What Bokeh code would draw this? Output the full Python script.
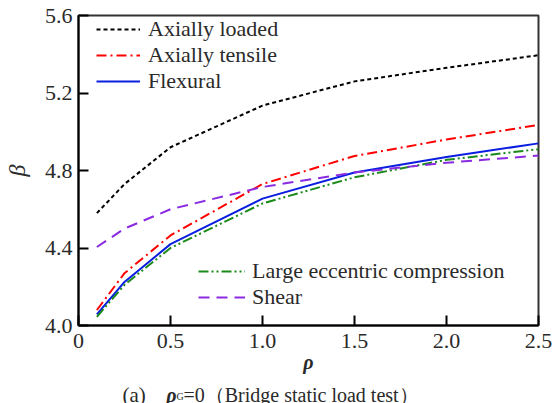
from bokeh.plotting import figure
from bokeh.layouts import column
from bokeh.models import Range1d, FixedTicker, Legend, LegendItem, Label
from bokeh.embed import file_html
from bokeh.resources import INLINE

rho = [0.1, 0.25, 0.5, 1.0, 1.5, 2.0, 2.5]
axially_loaded = [4.58, 4.73, 4.92, 5.135, 5.26, 5.33, 5.395]
axially_tensile = [4.08, 4.27, 4.465, 4.73, 4.875, 4.96, 5.035]
flexural = [4.057, 4.225, 4.42, 4.655, 4.79, 4.87, 4.94]
large_ecc = [4.045, 4.21, 4.40, 4.63, 4.765, 4.855, 4.91]
shear = [4.405, 4.50, 4.60, 4.715, 4.79, 4.84, 4.877]

x_ticks = [0, 0.5, 1.0, 1.5, 2.0, 2.5]
x_tick_labels = ["0", "0.5", "1.0", "1.5", "2.0", "2.5"]
y_ticks = [4.0, 4.4, 4.8, 5.2, 5.6]
y_tick_labels = ["4.0", "4.4", "4.8", "5.2", "5.6"]

FONT = "Liberation Serif"
TXT = "#2a2a2a"
LEFT, RIGHT, TOP = 78, 21, 15
MAIN_H, CAP_H = 376, 27

p = figure(width=559, height=MAIN_H, output_backend="svg", toolbar_location=None,
           x_range=Range1d(0, 2.5), y_range=Range1d(4.0, 5.6),
           min_border_left=LEFT, min_border_right=RIGHT, min_border_top=TOP,
           min_border_bottom=MAIN_H - TOP - 310)
p.grid.visible = False
p.background_fill_color = "white"
p.border_fill_color = "white"
p.outline_line_color = "#333333"
p.outline_line_width = 2

for ax, ticks, labels in ((p.xaxis[0], x_ticks, x_tick_labels), (p.yaxis[0], y_ticks, y_tick_labels)):
    ax.ticker = FixedTicker(ticks=ticks)
    ax.major_label_overrides = {t: l for t, l in zip(ticks, labels)}
    ax.major_tick_in = 10
    ax.major_tick_out = 0
    ax.minor_tick_in = 0
    ax.minor_tick_out = 0
    ax.major_tick_line_width = 2
    ax.major_tick_line_color = "black"
    ax.axis_line_width = 2
    ax.axis_line_color = "black"
    ax.major_label_text_font = FONT
    ax.major_label_text_font_size = "22px"
    ax.major_label_text_color = TXT
    ax.axis_label_text_font = FONT
    ax.axis_label_text_color = TXT
p.xaxis.major_label_standoff = 8
p.yaxis.major_label_standoff = 6
p.yaxis.axis_label = "β"
p.yaxis.axis_label_text_font_style = "italic"
p.yaxis.axis_label_text_font_size = "24px"
p.yaxis.axis_label_standoff = 12
p.xaxis.axis_label = "ρ"
p.xaxis.axis_label_text_font_style = "bold italic"
p.xaxis.axis_label_text_font_size = "20px"
p.xaxis.axis_label_standoff = 0

r1 = p.line(rho, axially_loaded, line_color="black", line_width=2, line_dash="4 3")
r2 = p.line(rho, axially_tensile, line_color="#ff0000", line_width=2, line_dash="10 4 2 4")
r3 = p.line(rho, flexural, line_color="#0a1ee0", line_width=2)
r4 = p.line(rho, large_ecc, line_color="#1a8a1a", line_width=2, line_dash="10 3 2 3 2 3")
r5 = p.line(rho, shear, line_color="#8a2be2", line_width=2, line_dash="11 7")

def mk_legend(items, loc, gw, standoff):
    return Legend(items=items, location=loc, orientation="vertical",
                  border_line_color=None, background_fill_alpha=0,
                  padding=0, margin=0, spacing=0,
                  glyph_width=gw, glyph_height=24, label_height=24,
                  label_standoff=standoff,
                  label_text_font=FONT, label_text_font_size="22px",
                  label_text_color=TXT)

leg1 = mk_legend([LegendItem(label="Axially loaded", renderers=[r1]),
                  LegendItem(label="Axially tensile", renderers=[r2]),
                  LegendItem(label="Flexural", renderers=[r3])],
                 (18, 231), 44, 8)
leg2 = mk_legend([LegendItem(label="Large eccentric compression", renderers=[r4]),
                  LegendItem(label="Shear", renderers=[r5])],
                 (120, 15), 47, 7)
p.add_layout(leg1, "center")
p.add_layout(leg2, "center")

# caption strip below the chart (its frame is aligned with the chart frame by the column layout)
cap = figure(width=559, height=CAP_H, output_backend="svg", toolbar_location=None,
             x_range=Range1d(0, 1), y_range=Range1d(0, 1),
             x_axis_type=None, y_axis_type=None, title=None,
             min_border_left=LEFT, min_border_right=RIGHT,
             min_border_top=0, min_border_bottom=0)
cap.grid.visible = False
cap.outline_line_color = None
cap.background_fill_color = "white"
cap.border_fill_color = "white"

def lab(x, y, text, size, style="normal", align="left"):
    cap.add_layout(Label(x=x - LEFT, y=y, x_units="screen", y_units="screen", text=text,
                         text_font=FONT, text_font_size=size,
                         text_font_style=style, text_color=TXT,
                         text_align=align, text_baseline="alphabetic"))

BASE = 9  # caption baseline, px above the strip's bottom
lab(122, BASE, "(a)", "21px")
lab(176, BASE, "ρ", "20px", "bold italic", "right")
lab(176, BASE - 2, "G", "10px")
lab(183, BASE, "=0（Bridge static load test）", "20px")

open("out.html", "w").write(file_html(column(p, cap, spacing=0), INLINE))
